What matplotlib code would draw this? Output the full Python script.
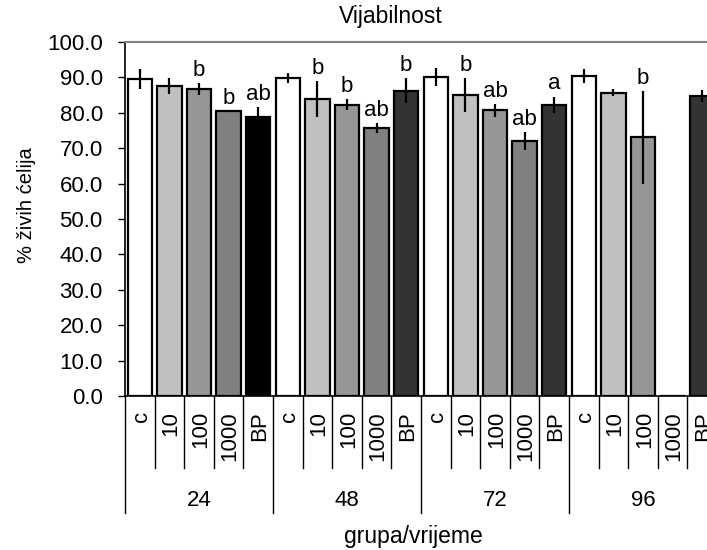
import numpy as np
import matplotlib
matplotlib.use("Agg")
import matplotlib.pyplot as plt
import matplotlib.transforms as mtransforms

plt.rcParams['font.family'] = ['Liberation Sans', 'DejaVu Sans']

# Time points (h) and treatment groups
groups = ['24', '48', '72', '96']
treatments = ['c', '10', '100', '1000', 'BP']

# Mean viability (%) per time point, in treatment order
means_24 = [89.5, 87.6, 86.8, 80.4, 78.7]
means_48 = [89.9, 83.9, 82.3, 75.7, 86.2]
means_72 = [90.2, 84.9, 80.7, 72.1, 82.3]
means_96 = [90.5, 85.7, 73.1, np.nan, 84.7]

# Standard deviations
err_24 = [2.8, 2.2, 1.7, 0.0, 2.9]
err_48 = [1.4, 5.2, 1.5, 1.5, 3.5]
err_72 = [2.5, 4.8, 1.8, 2.5, 2.3]
err_96 = [2.0, 0.9, 13.1, np.nan, 1.7]

# Significance letters
sig_24 = ['', '', 'b', 'b', 'ab']
sig_48 = ['', 'b', 'b', 'ab', 'b']
sig_72 = ['', 'b', 'ab', 'ab', 'a']
sig_96 = ['', '', 'b', '', '']

# Fill colours per treatment; BP at 24 h is solid black
colors_24 = ['#ffffff', '#c0c0c0', '#969696', '#808080', '#000000']
colors_rest = ['#ffffff', '#c0c0c0', '#969696', '#808080', '#333333']

means = means_24 + means_48 + means_72 + means_96
errs = err_24 + err_48 + err_72 + err_96
sigs = sig_24 + sig_48 + sig_72 + sig_96
colors = colors_24 + colors_rest * 3
labels = treatments * len(groups)

W, H = 707, 550
fig = plt.figure(figsize=(W / 100, H / 100), dpi=100)
ax_left, ax_right, ax_top, ax_bot = 125, 717, 42, 396
ax = fig.add_axes([ax_left / W, 1 - ax_bot / H,
                   (ax_right - ax_left) / W, (ax_bot - ax_top) / H])

x = np.arange(len(means))
m = np.array(means, dtype=float)
e = np.array(errs, dtype=float)
ax.bar(x, np.nan_to_num(m), width=0.83, color=colors, edgecolor='black',
       linewidth=1.6, zorder=2)
ok = ~np.isnan(m)
ax.errorbar(x[ok], m[ok], yerr=e[ok], fmt='none', ecolor='black',
            elinewidth=1.6, capsize=0, zorder=3)

for xi, mi, ei, s in zip(x, m, e, sigs):
    if s and not np.isnan(mi):
        ax.annotate(s, (xi, mi + ei), xytext=(0, 1.5), textcoords='offset points',
                    ha='center', va='bottom', fontsize=16)

ax.set_xlim(-0.5, len(means) - 0.5)
ax.set_ylim(0, 100)
ax.set_yticks(np.arange(0, 101, 10))
ax.set_yticklabels([f"{v:.1f}" for v in np.arange(0, 101, 10)], fontsize=16)
ax.tick_params(axis='y', direction='out', length=5, width=1, color='black', pad=11)
ax.set_xticks([])

ax.spines['right'].set_visible(False)
ax.spines['top'].set_color('#808080')
ax.spines['top'].set_linewidth(1.5)
ax.spines['left'].set_linewidth(1.2)
ax.spines['bottom'].set_linewidth(1.2)

# Hierarchical category axis below the plot
trans = mtransforms.blended_transform_factory(ax.transData, ax.transAxes)
short_y = (ax_bot - 468) / (ax_bot - ax_top)
long_y = (ax_bot - 513) / (ax_bot - ax_top)
n_t = len(treatments)
for k in range(len(means) + 1):
    yb = long_y if k % n_t == 0 else short_y
    ax.plot([k - 0.5, k - 0.5], [0, yb], transform=trans, color='black',
            linewidth=1.0, clip_on=False)

lab_y = (ax_bot - 411) / (ax_bot - ax_top)
for xi, lab in zip(x, labels):
    ax.text(xi + 0.05, lab_y, lab, transform=trans, rotation=90, ha='center',
            va='top', fontsize=16)

grp_y = (ax_bot - 500) / (ax_bot - ax_top)
for gi, g in enumerate(groups):
    ax.text(gi * n_t + (n_t - 1) / 2, grp_y, g, transform=trans, ha='center',
            va='center', fontsize=16)

fig.text(391 / W, 1 - 17 / H, 'Vijabilnost', ha='center', va='center', fontsize=16.5)
fig.text(413 / W, 1 - 537 / H, 'grupa/vrijeme', ha='center', va='center', fontsize=16.5)
fig.text(26 / W, 1 - 205 / H, '% živih ćelija', ha='center', va='center',
         rotation=90, fontsize=14.5)

fig.savefig('out.png', dpi=100)
